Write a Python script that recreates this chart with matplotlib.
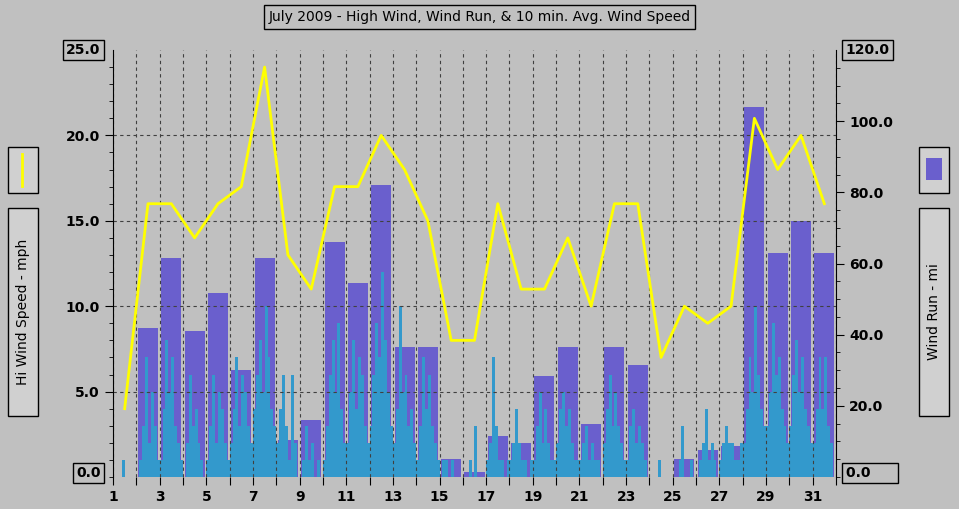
import numpy as np
import matplotlib.pyplot as plt

days = np.arange(1, 32)
hi_wind = [4, 16, 16, 14, 16, 17, 24, 13, 11, 17, 17, 20, 18, 15, 8,
           8, 16, 11, 11, 14, 10, 16, 16, 7, 10, 9, 10, 21, 18, 20, 16]
wind_run = [0, 42, 61.5, 41, 51.7, 30, 61.6, 10.4, 16, 66, 54.6, 82, 36.6, 36.6, 5,
            1.4, 11.5, 9.6, 28.5, 36.6, 15, 36.6, 31.5, 0, 5, 7.6, 8.7, 104, 63, 72, 63]
# 10 min avg, 8 samples per day (3 h steps)
avg_speed = [
    0, 0, 0, 1, 0, 0, 0, 0,
    0, 1, 3, 7, 2, 5, 3, 1,
    1, 4, 8, 5, 7, 3, 2, 1,
    0, 2, 6, 3, 4, 2, 1, 0,
    1, 3, 6, 2, 5, 4, 2, 1,
    2, 4, 7, 3, 6, 5, 3, 2,
    4, 6, 8, 5, 10, 7, 4, 3,
    2, 4, 6, 3, 1, 6, 2, 0,
    0, 1, 3, 1, 2, 0, 1, 0,
    1, 3, 6, 8, 5, 9, 4, 2,
    2, 5, 8, 4, 7, 6, 3, 2,
    3, 6, 9, 7, 12, 8, 5, 3,
    2, 4, 10, 5, 6, 3, 4, 2,
    1, 3, 7, 4, 6, 3, 2, 1,
    0, 1, 1, 0, 1, 0, 0, 0,
    0, 0, 1, 0, 3, 0, 0, 0,
    1, 2, 7, 3, 1, 1, 0, 1,
    1, 2, 4, 2, 1, 1, 0, 1,
    1, 3, 5, 2, 4, 2, 1, 1,
    2, 4, 5, 3, 4, 2, 1, 1,
    1, 2, 3, 1, 2, 1, 1, 0,
    2, 4, 6, 3, 5, 3, 2, 1,
    1, 3, 4, 2, 3, 2, 1, 0,
    0, 0, 0, 1, 0, 0, 0, 0,
    0, 0, 1, 3, 0, 0, 1, 0,
    0, 1, 2, 4, 1, 2, 1, 0,
    1, 2, 3, 2, 2, 1, 1, 2,
    2, 4, 7, 5, 10, 6, 4, 3,
    3, 5, 9, 6, 7, 4, 3, 2,
    3, 6, 8, 5, 7, 4, 3, 2,
    2, 4, 7, 4, 7, 3, 2, 1]
avg_t = 1 + np.arange(len(avg_speed)) / 8.0

bg = '#c0c0c0'
fig = plt.figure(figsize=(9.59, 5.09), dpi=100, facecolor=bg)
ax = fig.add_axes([113/959, 32/509, 723/959, 427/509], facecolor=bg)
ax2 = ax.twinx()

ax2.bar(days + 0.5, wind_run, width=0.86, color='#6a5fcd', zorder=1)
ax2.set_ylim(0, 120)
ax.set_zorder(ax2.get_zorder() + 1)
ax.patch.set_visible(False)

ax.fill_between(avg_t, avg_speed, step='post', color='#3399cc', lw=0)
ax.plot(days + 0.5, hi_wind, color='yellow', lw=2)
ax.set_xlim(1, 32)
ax.set_ylim(0, 25)

ax.set_xticks(np.arange(1, 33))
ax.set_xticklabels([str(d) if d % 2 == 1 else '' for d in range(1, 33)])
ax.set_yticks([5, 10, 15, 20])
ax.set_yticklabels(['5.0', '10.0', '15.0', '20.0'])
ax.set_yticks(np.arange(0, 25, 1.0), minor=True)
ax2.set_yticks([20, 40, 60, 80, 100])
ax2.set_yticklabels(['20.0', '40.0', '60.0', '80.0', '100.0'])
ax2.set_yticks(np.arange(0, 120, 5), minor=True)
for a in (ax, ax2):
    a.tick_params(labelsize=10, colors='black', length=6, direction='out')
    a.tick_params(which='minor', length=3)
    for lab in a.get_yticklabels() + a.get_xticklabels():
        lab.set_fontweight('bold')
    for s in a.spines.values():
        s.set_visible(False)
ax.spines['left'].set_visible(True)
ax2.spines['right'].set_visible(True)
ax.grid(True, which='major', color='#404040', linestyle=(0, (3, 3)), lw=0.8)

box = dict(boxstyle='square,pad=0.25', fc=bg, ec='black', lw=1)
fig.text(0.105, 1 - 50/509, '25.0', ha='right', va='center', fontsize=10,
         fontweight='bold', bbox=dict(boxstyle='square,pad=0.25', fc=bg, ec='black'))
fig.text(0.105, 1 - 473/509, '0.0', ha='right', va='center', fontsize=10,
         fontweight='bold', bbox=dict(boxstyle='square,pad=0.25', fc=bg, ec='black'))
fig.text(0.882, 1 - 50/509, '120.0', ha='left', va='center', fontsize=10,
         fontweight='bold', bbox=dict(boxstyle='square,pad=0.25', fc=bg, ec='black'))
fig.text(0.882, 1 - 473/509, '0.0     ', ha='left', va='center', fontsize=10,
         fontweight='bold', bbox=dict(boxstyle='square,pad=0.25', fc=bg, ec='black'))
fig.text(0.5, 1 - 17/509, 'July 2009 - High Wind, Wind Run, & 10 min. Avg. Wind Speed',
         ha='center', va='center', fontsize=10,
         bbox=dict(boxstyle='square,pad=0.35', fc=bg, ec='black'))

side = '#d0d0d0'
fig.patches.append(plt.Rectangle((8/959, 1 - 193/509), 30/959, 46/509,
                                 transform=fig.transFigure, fc=side, ec='black'))
fig.add_artist(plt.Line2D([22/959, 22/959], [1 - 186/509, 1 - 154/509],
                          color='yellow', lw=2, transform=fig.transFigure))
fig.patches.append(plt.Rectangle((8/959, 1 - 416/509), 30/959, 208/509,
                                 transform=fig.transFigure, fc=side, ec='black'))
fig.text(23/959, 1 - 312/509, 'Hi Wind Speed - mph', rotation=90,
         ha='center', va='center', fontsize=10)
fig.patches.append(plt.Rectangle((919/959, 1 - 193/509), 30/959, 46/509,
                                 transform=fig.transFigure, fc=side, ec='black'))
fig.patches.append(plt.Rectangle((926/959, 1 - 180/509), 16/959, 22/509,
                                 transform=fig.transFigure, fc='#6a5fcd', ec='none'))
fig.patches.append(plt.Rectangle((919/959, 1 - 416/509), 30/959, 208/509,
                                 transform=fig.transFigure, fc=side, ec='black'))
fig.text(934/959, 1 - 312/509, 'Wind Run - mi', rotation=90,
         ha='center', va='center', fontsize=10)

fig.savefig('out.png', dpi=100, facecolor=bg)
